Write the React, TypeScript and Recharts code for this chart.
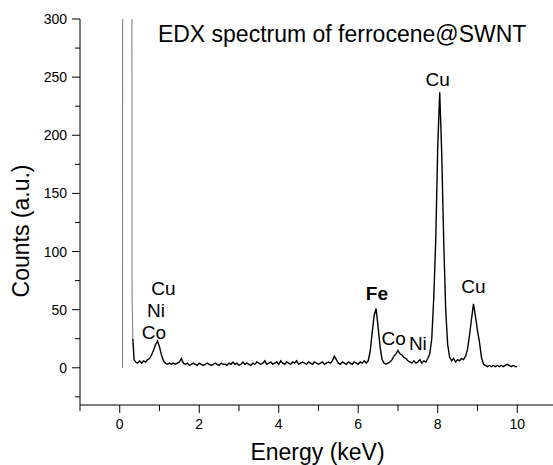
import React from 'react';
import { LineChart, Line, XAxis, YAxis, ReferenceDot } from 'recharts';

// energy (keV) and counts
const energy = [
  0.07, 0.09, 0.28, 0.31, 0.33, 0.36,
  0.40, 0.45, 0.50, 0.55, 0.60, 0.65, 0.70, 0.75, 0.80, 0.85,
  0.90, 0.95, 1.00, 1.05, 1.10, 1.15, 1.20, 1.25, 1.30, 1.35,
  1.40, 1.45, 1.50, 1.55, 1.60, 1.65, 1.70, 1.75, 1.80, 1.85,
  1.90, 1.95, 2.00, 2.05, 2.10, 2.15, 2.20, 2.25, 2.30, 2.35,
  2.40, 2.45, 2.50, 2.55, 2.60, 2.65, 2.70, 2.75, 2.80, 2.85,
  2.90, 2.95, 3.00, 3.05, 3.10, 3.15, 3.20, 3.25, 3.30, 3.35,
  3.40, 3.45, 3.50, 3.55, 3.60, 3.65, 3.70, 3.75, 3.80, 3.85,
  3.90, 3.95, 4.00, 4.05, 4.10, 4.15, 4.20, 4.25, 4.30, 4.35,
  4.40, 4.45, 4.50, 4.55, 4.60, 4.65, 4.70, 4.75, 4.80, 4.85,
  4.90, 4.95, 5.00, 5.05, 5.10, 5.15, 5.20, 5.25, 5.30, 5.35,
  5.40, 5.45, 5.50, 5.55, 5.60, 5.65, 5.70, 5.75, 5.80, 5.85,
  5.90, 5.95, 6.00, 6.05, 6.10, 6.15, 6.20, 6.25, 6.30, 6.35,
  6.40, 6.45, 6.50, 6.55, 6.60, 6.65, 6.70, 6.75, 6.80, 6.85,
  6.90, 6.95, 7.00, 7.05, 7.10, 7.15, 7.20, 7.25, 7.30, 7.35,
  7.40, 7.45, 7.50, 7.55, 7.60, 7.65, 7.70, 7.75, 7.80, 7.85,
  7.90, 7.95, 8.00, 8.05, 8.10, 8.15, 8.20, 8.25, 8.30, 8.35,
  8.40, 8.45, 8.50, 8.55, 8.60, 8.65, 8.70, 8.75, 8.80, 8.85,
  8.90, 8.95, 9.00, 9.05, 9.10, 9.15, 9.20, 9.25, 9.30, 9.35,
  9.40, 9.45, 9.50, 9.55, 9.60, 9.65, 9.70, 9.75, 9.80, 9.85,
  9.90, 9.95, 10.00,
];

const counts = [
  0, 2000, 2000, 60, 25, 7,
  5, 4, 6, 4, 6, 5, 7, 8, 11, 15,
  20, 23, 18, 11, 6, 4, 3, 4, 3, 4,
  3, 4, 5, 8, 4, 3, 4, 2, 3, 4,
  3, 2, 4, 3, 2, 3, 4, 3, 2, 3,
  4, 3, 2, 4, 3, 3, 2, 4, 3, 5,
  3, 4, 2, 3, 5, 3, 4, 3, 2, 4,
  3, 5, 4, 3, 4, 6, 3, 4, 5, 3,
  4, 5, 3, 6, 4, 3, 5, 4, 3, 5,
  4, 6, 3, 4, 5, 4, 3, 5, 4, 3,
  5, 4, 3, 4, 5, 3, 4, 5, 4, 6,
  10, 7, 4, 3, 5, 4, 3, 5, 4, 3,
  5, 4, 3, 5, 4, 6, 4, 6, 14, 30,
  45, 51, 35, 18, 7, 4, 3, 4, 5, 7,
  10, 12, 15, 12, 11, 9, 8, 6, 5, 4,
  6, 4, 5, 7, 4, 6, 5, 8, 12, 25,
  60, 110, 190, 237, 185, 110, 50, 20, 9, 6,
  8, 5, 7, 6, 8, 7, 10, 16, 28, 42,
  55, 44, 32, 22, 9, 3, 2, 1, 2, 1,
  2, 1, 2, 1, 2, 1, 2, 3, 2, 1,
  2, 1, 1,
];

// the first five points are the zero-energy spike, drawn in grey
const spikeCount = 5;

const xTicks = [-1, 0, 1, 2, 3, 4, 5, 6, 7, 8, 9, 10];
const yTicks = [-25, 0, 25, 50, 75, 100, 125, 150, 175, 200, 225, 250, 275, 300];

// peak labels, placed in data units
const peakNames = ['Cu', 'Cu', 'Fe', 'Co', 'Ni', 'Cu', 'Ni', 'Co'];
const peakE = [8.0, 8.9, 6.47, 6.89, 7.5, 1.1, 0.91, 0.86];
const peakY = [242, 64.6, 58.3, 19.6, 15.3, 62.6, 44, 24.8];
const peakBold = [false, false, true, false, false, false, false, false];

const data = energy.map((e, i) => ({
  e,
  s: i < spikeCount ? counts[i] : null,
  c: i >= spikeCount - 1 ? counts[i] : null,
}));

const FONT = '"Liberation Sans", Arial, Helvetica, sans-serif';

const XTick = ({ x, y, payload }: any) => {
  const major = payload.value % 2 === 0;
  return (
    <g>
      <line x1={x} x2={x} y1={y} y2={y + (major ? 8 : 6)} stroke="#000" strokeWidth={1} />
      {major && (
        <text x={x} y={y + 24} textAnchor="middle" fontSize={14} fontFamily={FONT} fill="#000">
          {payload.value}
        </text>
      )}
    </g>
  );
};

const YTick = ({ x, y, payload }: any) => {
  const major = payload.value % 50 === 0;
  return (
    <g>
      <line x1={x - (major ? 8 : 5)} x2={x} y1={y} y2={y} stroke="#000" strokeWidth={1} />
      {major && (
        <text x={x - 13} y={y + 5} textAnchor="end" fontSize={14} fontFamily={FONT} fill="#000">
          {payload.value}
        </text>
      )}
    </g>
  );
};

export default function App() {
  return (
    <div style={{ position: 'absolute', left: 0, top: 0, width: 553, height: 465, background: '#fff' }}>
      <LineChart width={553} height={465} data={data} margin={{ top: 19, right: 0, left: 0, bottom: 0 }}>
        <XAxis
          type="number"
          dataKey="e"
          domain={[-1, 10.9]}
          allowDataOverflow
          ticks={xTicks}
          tick={<XTick />}
          tickLine={false}
          tickSize={0}
          tickMargin={0}
          height={60}
          axisLine={{ stroke: '#000', strokeWidth: 1 }}
          interval={0}
          label={({ viewBox }: any) => (
            <text x={viewBox.x + viewBox.width / 2 + 1} y={viewBox.y + 55} textAnchor="middle" fontSize={23} fontFamily={FONT} fill="#000">
              Energy (keV)
            </text>
          )}
        />
        <YAxis
          type="number"
          domain={[-32, 300]}
          allowDataOverflow
          ticks={yTicks}
          tick={<YTick />}
          tickLine={false}
          tickSize={0}
          tickMargin={0}
          width={80}
          axisLine={{ stroke: '#000', strokeWidth: 1 }}
          interval={0}
          label={() => (
            <text x={29} y={231} transform="rotate(-90 29 231)" textAnchor="middle" fontSize={23} fontFamily={FONT} fill="#000">
              Counts (a.u.)
            </text>
          )}
        />
        <Line type="linear" dataKey="s" stroke="#777" strokeWidth={1} dot={false} isAnimationActive={false} />
        <Line type="linear" dataKey="c" stroke="#000" strokeWidth={1.4} dot={false} isAnimationActive={false} />
        <ReferenceDot
          x={0.96}
          y={280}
          r={0}
          shape={(p: any) => (
            <text x={p.cx} y={p.cy} textAnchor="start" fontSize={23} fontFamily={FONT} fill="#000">
              EDX spectrum of ferrocene@SWNT
            </text>
          )}
        />
        {peakNames.map((name, i) => (
          <ReferenceDot
            key={i}
            x={peakE[i]}
            y={peakY[i]}
            r={0}
            shape={(p: any) => (
              <text x={p.cx} y={p.cy} textAnchor="middle" fontSize={19} fontWeight={peakBold[i] ? 'bold' : 'normal'} fontFamily={FONT} fill="#000">
                {name}
              </text>
            )}
          />
        ))}
      </LineChart>
    </div>
  );
}
